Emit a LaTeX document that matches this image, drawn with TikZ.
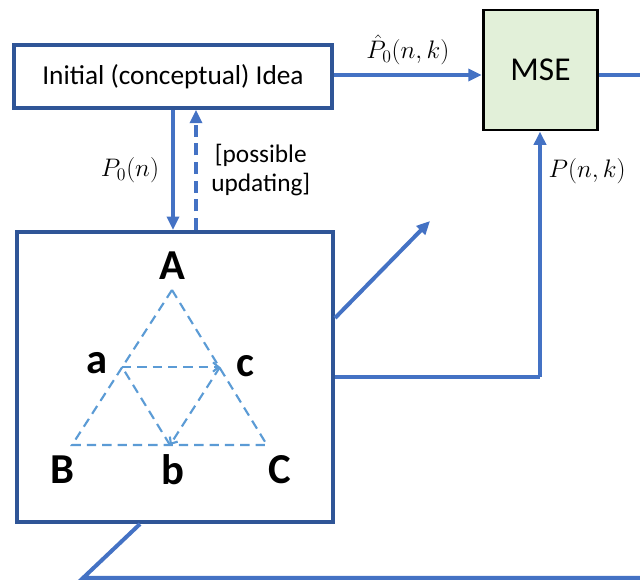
\RequirePackage{fix-cm}
\documentclass[tikz,border=0pt]{standalone}
\usepackage{fontspec}
\setmainfont{Carlito}
\usetikzlibrary{arrows.meta}
\definecolor{boxblue}{HTML}{2F5597}
\definecolor{linkblue}{HTML}{4472C4}
\definecolor{triblue}{HTML}{5B9BD5}
\definecolor{msegreen}{HTML}{E2F0D9}
\tikzset{
  blockbox/.style={draw=boxblue, line width=3pt, inner sep=0pt},
  link/.style={draw=linkblue, line width=3pt, -{Triangle[length=10pt,width=9pt]}},
  wire/.style={draw=linkblue, line width=3pt},
  tri/.style={draw=triblue, line width=1.6pt, dash pattern=on 7pt off 4.5pt},
  vertex/.style={font=\fontsize{32}{36}\selectfont\bfseries, inner sep=0pt},
  lbl/.style={font=\fontsize{19}{22}\selectfont, inner sep=1pt}
}
\begin{document}
\begin{tikzpicture}[x=0.75pt,y=-0.75pt]
    \useasboundingbox (0,0) rectangle (640,580);
    % Blocchi
    \node[blockbox, minimum width=238.5pt, minimum height=47pt,
          font=\fontsize{20.5}{24}\selectfont] (idea) at (173,76.5) {Initial (conceptual) Idea};
    \node[draw=black, fill=msegreen, line width=2.2pt, minimum width=86pt, minimum height=90pt,
          font=\fontsize{25}{29}\selectfont] (mse) at (540.5,70) {MSE};
    \node[blockbox, minimum width=237pt, minimum height=217.5pt] (sim) at (175,377) {};
    % Triangolo
    \coordinate (tA) at (172,290);
    \coordinate (tB) at (72,445);
    \coordinate (tC) at (267,445);
    \coordinate (ta) at (122,367);
    \coordinate (tc) at (220,367);
    \coordinate (tb) at (170,445);
    \draw[tri] (tA) -- (tB) -- (tC) -- cycle;
    \draw[tri, -{Straight Barb[length=4pt,width=7pt]}] (ta) -- (tc);
    \draw[tri, -{Straight Barb[length=4pt,width=7pt]}] (tc) -- (tb);
    \draw[tri] (tb) -- (ta);
    \node[vertex] (lA) at (172,266) {A};
    \node[vertex] (la) at (97,363) {a};
    \node[vertex] (lc) at (245,366) {c};
    \node[vertex] (lB) at (62,470) {B};
    \node[vertex] (lb) at (173,470) {b};
    \node[vertex] (lC) at (280,470) {C};
    % Frecce
    \coordinate (out) at (640,75);
    \coordinate (tip) at (430,221);
    \coordinate (bend) at (540,377);
    \coordinate (low) at (83,578);
    \coordinate (lowend) at (640,578);
    \draw[link] (idea.east |- 0,75) -- (mse.west |- 0,75)
        node[midway, above=5pt, lbl] {$\hat{P}_0(n,k)$};
    \draw[wire] (mse.east |- 0,75) -- (out);
    \draw[link] (idea.south -| 173,0) -- (sim.north -| 173,0)
        node[midway, left=8pt, lbl] {$P_0(n)$};
    \draw[link, dashed, dash pattern=on 9pt off 5pt] (sim.north -| 196,0) -- (idea.south -| 196,0)
        node[midway, right=9pt, lbl, align=center] {[possible\\updating]};
    \draw[link] (sim.east |- 0,318) -- (tip);
    \draw[wire] (sim.east |- 0,377) -- (bend);
    \draw[link] (bend) -- (mse.south -| bend)
        node[pos=0.84, right=4pt, lbl] {$P(n,k)$};
    \draw[wire] (sim.south -| 140,0) -- (low) -- (lowend);
\end{tikzpicture}
\end{document}
